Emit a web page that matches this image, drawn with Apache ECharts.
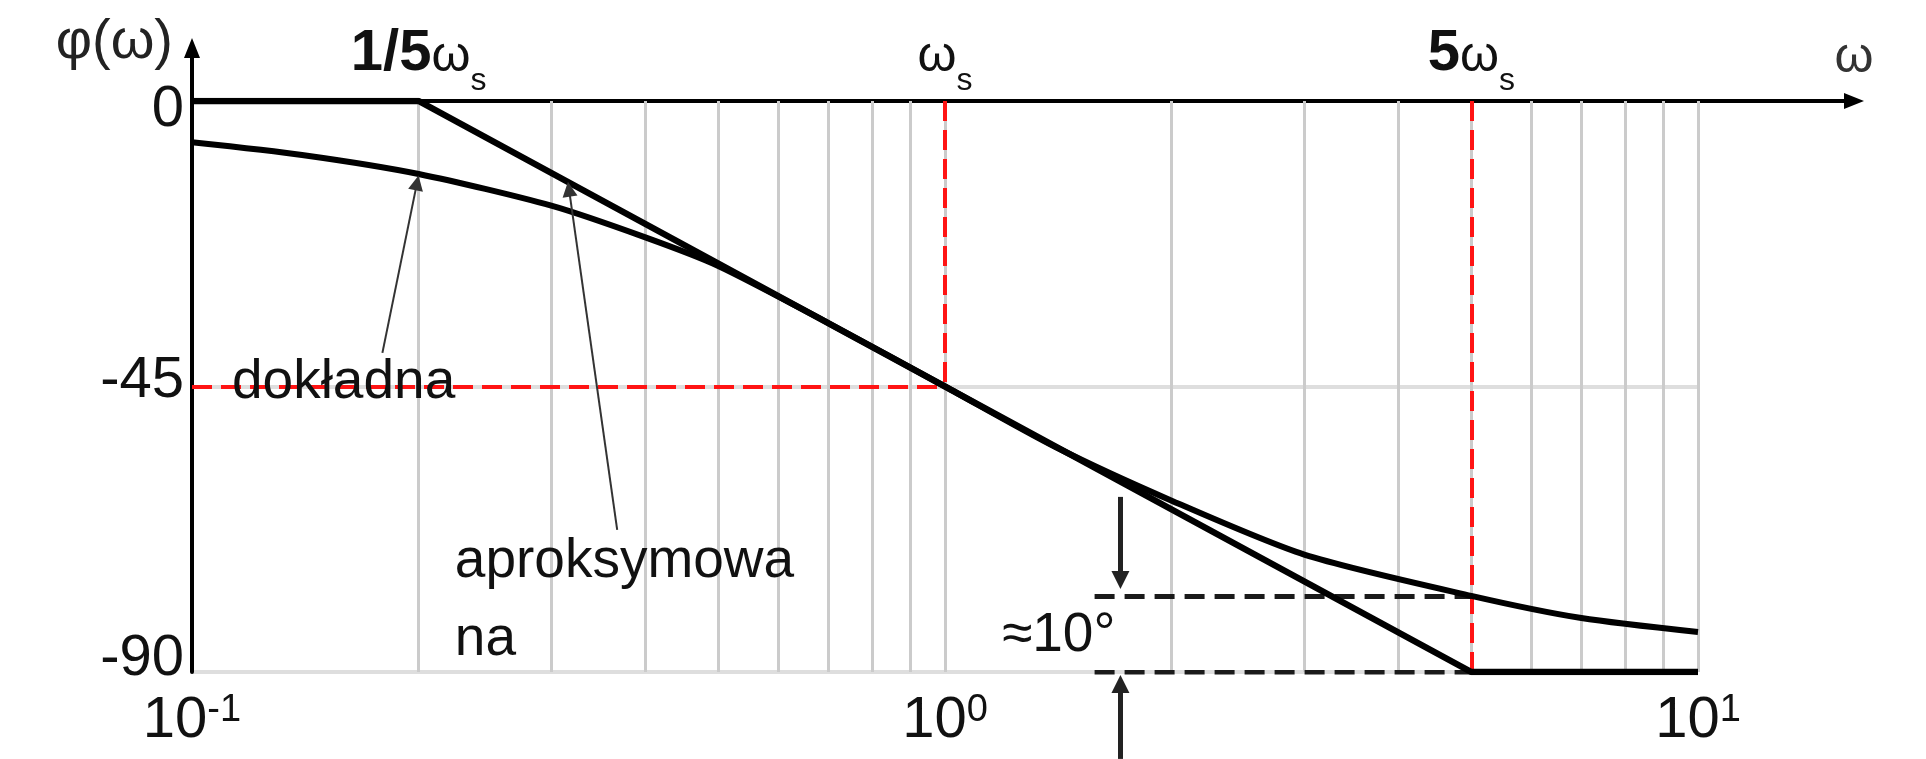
<!DOCTYPE html>
<html>
<head>
<meta charset="utf-8">
<script src="https://cdn.jsdelivr.net/npm/echarts@6/dist/echarts.min.js"></script>
<style>
  html, body { margin: 0; background: #fff; }
  #chart { width: 1926px; height: 759px; }
</style>
</head>
<body>
<div id="chart"></div>
<script>
// phase response phi(omega), omega on a log axis (omega_s = 1)
const omega = [0.1, 0.14, 0.2, 0.3, 0.4, 0.5, 0.7, 1, 1.4, 2, 3, 5, 7, 10]
const exactPhase = [-6.5, -8.5, -11.5, -16.5, -21.5, -26, -35, -45, -54.5, -63, -71.5, -78, -81.5, -83.7]
const approxOmega = [0.1, 0.2, 5, 10]
const approxPhase = [0, 0, -90, -90]

// light vertical grid of the log paper
const gridOmega = [0.2, 0.3, 0.4, 0.5, 0.6, 0.7, 0.8, 0.9, 1, 2, 3, 4, 5, 6, 7, 8, 9, 10]

const bottomTicks = [0.1, 1, 10]
const bottomExp = ['-1', '0', '1']
const topTicks = [0.2, 1, 5]
const topPrefix = ['1/5', '', '5']

// red guides at omega_s / -45 and at 5 omega_s
const redGuides = [
  [[0.1, -45], [1, -45]],
  [[1, 0], [1, -45]],
  [[5, 0], [5, -90]]
]
// the ~10 degree error at 5 omega_s
const errDashed = [
  [[1.58, -78], [5, -78]],
  [[1.58, -90], [5, -90]]
]
const errArrows = [
  [[1.71, -62.4], [1.71, -75.5]],
  [[1.71, -103.7], [1.71, -91.9]]
]
// pointers from the captions to the curves
const pointers = [
  [[0.179, -39.7], [0.199, -12.9]],
  [[0.367, -67.6], [0.3167, -13.9]]
]
const captions = ['dokładna', 'aproksymowa\nna', '≈10°']
const captionAt = [[0.113, -44.5], [0.2234, -78.8], [1.684, -84.3]]
const captionAlign = ['left', 'left', 'right']

const font = '"Liberation Sans", Arial, sans-serif'

function nearest (list, v) {
  let best = 0
  list.forEach((t, i) => {
    if (Math.abs(Math.log(t / v)) < Math.abs(Math.log(list[best] / v))) best = i
  })
  return best
}

function segs (list) {
  return list.map(s => ({ coords: s }))
}

const chart = echarts.init(document.getElementById('chart'))
chart.setOption({
  animation: false,
  backgroundColor: '#fff',
  textStyle: { fontFamily: font },
  grid: [
    { left: 192, right: 228, top: 101, bottom: 87 },
    { left: 192, right: 72, top: 48, bottom: 87 }
  ],
  xAxis: [
    {
      gridIndex: 0,
      type: 'log',
      logBase: 10,
      min: 0.1,
      max: 10,
      axisLine: { show: false },
      axisTick: { show: false },
      splitLine: { show: false },
      axisLabel: {
        customValues: bottomTicks,
        margin: 20,
        color: '#111',
        formatter: v => '{t|10}{e|' + bottomExp[nearest(bottomTicks, v)] + '}',
        rich: {
          t: { fontSize: 58, lineHeight: 58, verticalAlign: 'top' },
          e: { fontSize: 38, lineHeight: 38, verticalAlign: 'top' }
        }
      }
    },
    {
      gridIndex: 0,
      type: 'log',
      logBase: 10,
      min: 0.1,
      max: 10,
      position: 'top',
      axisLine: { show: false },
      axisTick: { show: false },
      splitLine: { show: false },
      axisLabel: {
        customValues: topTicks,
        margin: 16,
        color: '#111',
        formatter: v => {
          const p = topPrefix[nearest(topTicks, v)]
          return (p ? '{n|' + p + '}' : '') + '{w|ω}{s|s}'
        },
        rich: {
          n: { fontSize: 58, fontWeight: 'bold', lineHeight: 60, verticalAlign: 'top' },
          w: { fontSize: 50, lineHeight: 60, verticalAlign: 'top', padding: [7, 0, 0, 0] },
          s: { fontSize: 32, lineHeight: 32, verticalAlign: 'top', padding: [40, 0, 0, 0] }
        }
      }
    },
    {
      gridIndex: 1,
      type: 'value',
      min: 0,
      max: 1,
      axisLine: {
        onZero: true,
        symbol: ['none', 'triangle'],
        symbolSize: [16, 20],
        lineStyle: { color: '#000', width: 4 }
      },
      axisTick: { show: false },
      axisLabel: { show: false },
      splitLine: { show: false },
      name: 'ω',
      nameLocation: 'end',
      nameGap: 0,
      nameTextStyle: {
        fontSize: 50,
        color: '#333',
        align: 'center',
        verticalAlign: 'bottom',
        padding: [0, 0, 18, 0]
      }
    }
  ],
  yAxis: [
    {
      gridIndex: 0,
      type: 'value',
      min: -90,
      max: 0,
      interval: 45,
      axisLine: { show: false },
      axisTick: { show: false },
      splitLine: { lineStyle: { color: '#dedede', width: 4 } },
      axisLabel: {
        margin: 8,
        fontSize: 58,
        color: '#111',
        formatter: v => {
          if (v === 0) return '{z|0}'
          if (v === -45) return '{m|-45}'
          return '{b|' + v + '}'
        },
        rich: {
          z: { padding: [18, 0, 0, 0] },
          m: { padding: [0, 0, 12, 0] },
          b: { padding: [0, 0, 26, 0] }
        }
      }
    },
    {
      gridIndex: 1,
      type: 'value',
      min: -90,
      max: 8.35,
      axisLine: {
        symbol: ['none', 'triangle'],
        symbolSize: [16, 20],
        lineStyle: { color: '#000', width: 4 }
      },
      axisTick: { show: false },
      axisLabel: { show: false },
      splitLine: { show: false },
      name: 'φ(ω)',
      nameLocation: 'end',
      nameGap: 5,
      nameTextStyle: {
        fontSize: 56,
        color: '#222',
        align: 'right',
        verticalAlign: 'middle',
        padding: [0, 19, 0, 0]
      }
    }
  ],
  series: [
    {
      name: 'siatka',
      type: 'lines',
      coordinateSystem: 'cartesian2d',
      silent: true,
      z: 1,
      data: gridOmega.map(w => ({ coords: [[w, 0], [w, -90]] })),
      lineStyle: { color: '#cbcbcb', width: 3, opacity: 1 }
    },
    {
      name: 'pomocnicze',
      type: 'lines',
      coordinateSystem: 'cartesian2d',
      silent: true,
      z: 3,
      data: segs(redGuides),
      lineStyle: { color: '#ff1414', width: 4, type: [20, 9], opacity: 1 }
    },
    {
      name: 'blad',
      type: 'lines',
      coordinateSystem: 'cartesian2d',
      silent: true,
      z: 3,
      data: segs(errDashed),
      lineStyle: { color: '#1a1a1a', width: 5, type: [20, 10], opacity: 1 }
    },
    {
      name: 'aproksymowana',
      type: 'line',
      z: 5,
      showSymbol: false,
      data: approxOmega.map((w, i) => [w, approxPhase[i]]),
      lineStyle: { color: '#000', width: 6.5 }
    },
    {
      name: 'dokładna',
      type: 'line',
      z: 5,
      smooth: 0.25,
      showSymbol: false,
      data: omega.map((w, i) => [w, exactPhase[i]]),
      lineStyle: { color: '#000', width: 6 }
    },
    {
      name: 'wskazniki',
      type: 'lines',
      coordinateSystem: 'cartesian2d',
      silent: true,
      z: 6,
      symbol: ['none', 'triangle'],
      symbolSize: 15,
      data: segs(pointers),
      lineStyle: { color: '#333', width: 2, opacity: 1 }
    },
    {
      name: 'strzalki',
      type: 'lines',
      coordinateSystem: 'cartesian2d',
      silent: true,
      clip: false,
      z: 6,
      symbol: ['none', 'triangle'],
      symbolSize: 18,
      data: segs(errArrows),
      lineStyle: { color: '#222', width: 5, opacity: 1 }
    },
    {
      name: 'opisy',
      type: 'scatter',
      silent: true,
      z: 7,
      symbolSize: 0,
      itemStyle: { opacity: 1 },
      data: captions.map((c, i) => ({
        name: c,
        value: captionAt[i],
        label: { align: captionAlign[i] }
      })),
      label: {
        show: true,
        position: 'inside',
        formatter: p => p.name,
        fontSize: 55,
        lineHeight: 78,
        color: '#111',
        opacity: 1,
        verticalAlign: 'middle'
      }
    }
  ]
})
</script>
</body>
</html>
